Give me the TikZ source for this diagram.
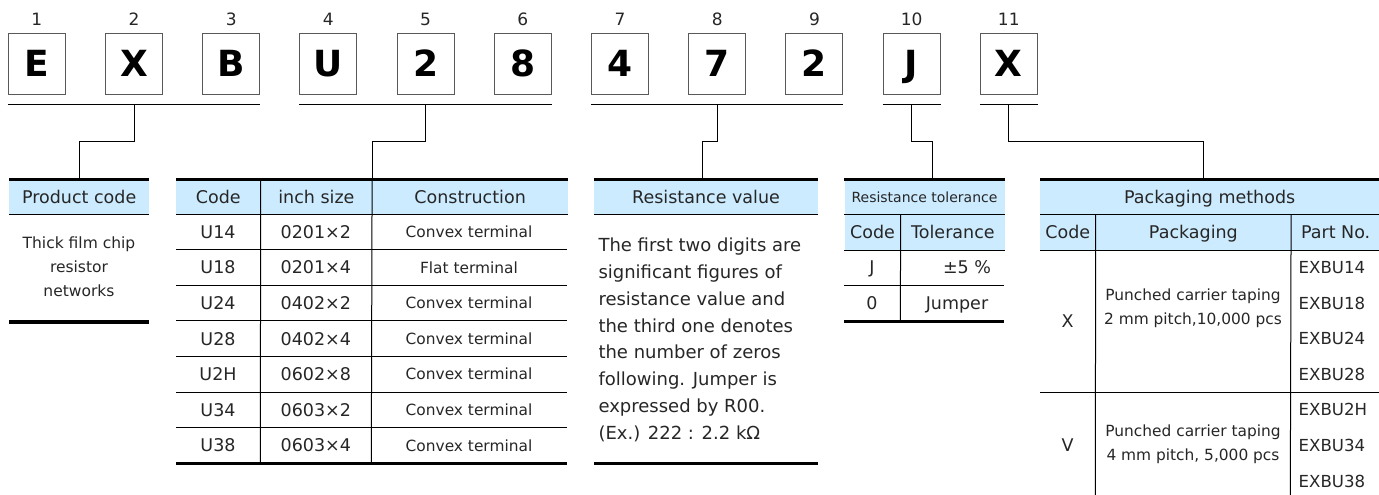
\documentclass[tikz,border=0pt]{standalone}
\usepackage{fontspec}
\setmainfont{DejaVu Sans}
\usetikzlibrary{positioning}
\definecolor{headblue}{HTML}{CCEBFF}
\definecolor{textgray}{HTML}{262626}

\begin{document}
\begin{tikzpicture}[x=1pt,y=-1pt,
    char box/.style={draw=black!65,line width=1pt,minimum width=57pt,minimum height=61pt,inner sep=0pt,text height=26pt,text depth=0pt,font=\fontsize{36}{36}\selectfont\bfseries},
    pos label/.style={inner sep=0pt,text height=12.5pt,text depth=0pt,text=textgray,font=\fontsize{17}{17}\selectfont},
    underline/.style={line width=1.2pt},
    conn/.style={line width=1pt},
    cell/.style={inner sep=0pt,text=textgray,text height=12.8pt,text depth=0pt,font=\fontsize{17.5}{20}\selectfont},
    head cell/.style={cell,fill=headblue,minimum height=34.6pt,anchor=north west},
    small cell/.style={cell,text height=11.2pt,font=\fontsize{15.4}{18}\selectfont},
    two lines/.style={inner sep=0pt,text=textgray,align=center,font=\fontsize{15.4}{24}\selectfont},
    thin rule/.style={line width=1pt},
    thick rule/.style={line width=3.6pt}]
  \useasboundingbox (0,0) rectangle (1379,495);

  % characters of the part number
  \foreach \c [count=\i] in {E,X,B,U,2,8,4,7,2,J,X}{
    \node[char box] (\i) at (36.8+97.2*\i-97.2,63.8) {\c};
    \node[pos label,above=7.3pt of \i] {\i};
  }
  \draw[underline] ([yshift=-10pt]1.south west) -- ([yshift=-10pt]3.south east);
  \draw[underline] ([yshift=-10pt]4.south west) -- ([yshift=-10pt]6.south east);
  \draw[underline] ([yshift=-10pt]7.south west) -- ([yshift=-10pt]9.south east);
  \draw[underline] ([yshift=-10pt]10.south west) -- ([yshift=-10pt]10.south east);
  \draw[underline] ([yshift=-10pt]11.south west) -- ([yshift=-10pt]11.south east);

  % product code
  \node[head cell,minimum width=140pt] (pc) at (9,179.5) {Product code};
  \node[two lines,font=\fontsize{15.5}{24}\selectfont] (pcbody) at (79,267) {Thick film chip\\resistor\\networks};
  \draw[thin rule] (pc.south west) -- (pc.south east);
  \draw[thick rule] (pc.north west) -- (pc.north east);
  \draw[thick rule] (9,321.7) -- (149,321.7);

  % size and construction
  \node[head cell,minimum width=84.3pt] (codehead) at (176,179.5) {Code};
  \node[head cell,minimum width=111pt] (sizehead) at (codehead.north east) {inch size};
  \node[head cell,minimum width=195.7pt] (conhead) at (sizehead.north east) {Construction};
  \foreach \code/\size/\con [count=\r] in {U14/0201×2/Convex terminal,U18/0201×4/Flat terminal,U24/0402×2/Convex terminal,U28/0402×4/Convex terminal,U2H/0602×8/Convex terminal,U34/0603×2/Convex terminal,U38/0603×4/Convex terminal}{
    \node[cell] at (218,196.3+35.6*\r) {\code};
    \node[cell] at (315.8,196.3+35.6*\r) {\size};
    \node[small cell] at (469,196.3+35.6*\r) {\con};
    \draw[thin rule] (176,214.1+35.6*\r) -- (567,214.1+35.6*\r);
  }
  \draw[thin rule] (codehead.south west) -- (conhead.south east);
  \draw[thin rule] (codehead.north east) -- (260.3,463.3);
  \draw[thin rule] (sizehead.north east) -- (371.3,463.3);
  \draw[thick rule] (codehead.north west) -- (conhead.north east);
  \draw[thick rule] (176,463.3) -- (567,463.3);

  % resistance value
  \node[head cell,minimum width=223.7pt] (rv) at (594,179.5) {Resistance value};
  \foreach \t [count=\r] in {The first two digits are,significant figures of,resistance value and,the third one denotes,the number of zeros,following. Jumper is,expressed by R00.,(Ex.) 222 : 2.2 kΩ}
    \node[cell,anchor=west,font=\fontsize{18}{20}\selectfont,text height=13.2pt] at (598.3,218.2+26.8*\r) {\t};
  \draw[thin rule] (rv.south west) -- (rv.south east);
  \draw[thick rule] (rv.north west) -- (rv.north east);
  \draw[thick rule] (594,463.3) -- (817.7,463.3);

  % resistance tolerance
  \node[head cell,minimum width=160pt,font=\fontsize{14}{16}\selectfont,text height=10.2pt] (rt) at (844.3,179.5) {Resistance tolerance};
  \node[head cell,minimum width=56pt,minimum height=35.6pt] (tcode) at (rt.south west) {Code};
  \node[head cell,minimum width=104pt,minimum height=35.6pt] (ttol) at (tcode.north east) {Tolerance};
  \node[cell] at (872,267.5) {J};
  \node[cell] at (967,267.5) {±5 \%};
  \node[cell] at (872,303.1) {0};
  \node[cell] at (957,303.1) {Jumper};
  \draw[thin rule] (rt.south west) -- (rt.south east);
  \draw[thin rule] (tcode.south west) -- (ttol.south east);
  \draw[thin rule] (844.3,285.3) -- (1004.3,285.3);
  \draw[thin rule] (tcode.north east) -- (900.3,321.3);
  \draw[thick rule] (rt.north west) -- (rt.north east);
  \draw[thick rule] (844.3,321.3) -- (1004.3,321.3);

  % packaging
  \node[head cell,minimum width=339pt] (pm) at (1040,179.5) {Packaging methods};
  \node[head cell,minimum width=55.3pt,minimum height=35.6pt] (pkcode) at (pm.south west) {Code};
  \node[head cell,minimum width=195pt,minimum height=35.6pt] (pkpack) at (pkcode.north east) {Packaging};
  \node[head cell,minimum width=88.7pt,minimum height=35.6pt] (pkpart) at (pkpack.north east) {Part No.};
  \node[cell] at (1067.7,321) {X};
  \node[cell] at (1067.7,445.5) {V};
  \node[two lines] at (1193,308.7) {Punched carrier taping\\2 mm pitch,10,000 pcs};
  \node[two lines] at (1193,444.7) {Punched carrier taping\\4 mm pitch, 5,000 pcs};
  \foreach \p [count=\r] in {EXBU14,EXBU18,EXBU24,EXBU28,EXBU2H,EXBU34,EXBU38}
    \node[cell,anchor=west,font=\fontsize{16.6}{20}\selectfont,text height=12.1pt] at (1298.5,231.9+35.6*\r) {\p};
  \draw[thin rule] (pm.south west) -- (pm.south east);
  \draw[thin rule] (pkcode.south west) -- (pkpart.south east);
  \draw[thin rule] (1040,392.1) -- (1379,392.1);
  \draw[thin rule] (pkcode.north east) -- (1095.3,495);
  \draw[thin rule] (pkpack.north east) -- (1290.3,495);
  \draw[thick rule] (pm.north west) -- (pm.north east);

  % connectors
  \draw[conn] ([yshift=-10pt]2.south) -- ++(0,36.4) -| (pc.north);
  \draw[conn] ([yshift=-10pt]5.south) -- ++(0,36.4) -| (sizehead.north east);
  \draw[conn] ([yshift=-10pt]8.south) -- ++(0,36.4) -| ([xshift=-4pt]rv.north);
  \draw[conn] ([yshift=-10pt]10.south) -- ++(0,36.4) -| ([xshift=8pt]rt.north);
  \draw[conn] ([yshift=-10pt]11.south) -- ++(0,36.4) -| ([xshift=-6pt]pm.north);
\end{tikzpicture}
\end{document}
